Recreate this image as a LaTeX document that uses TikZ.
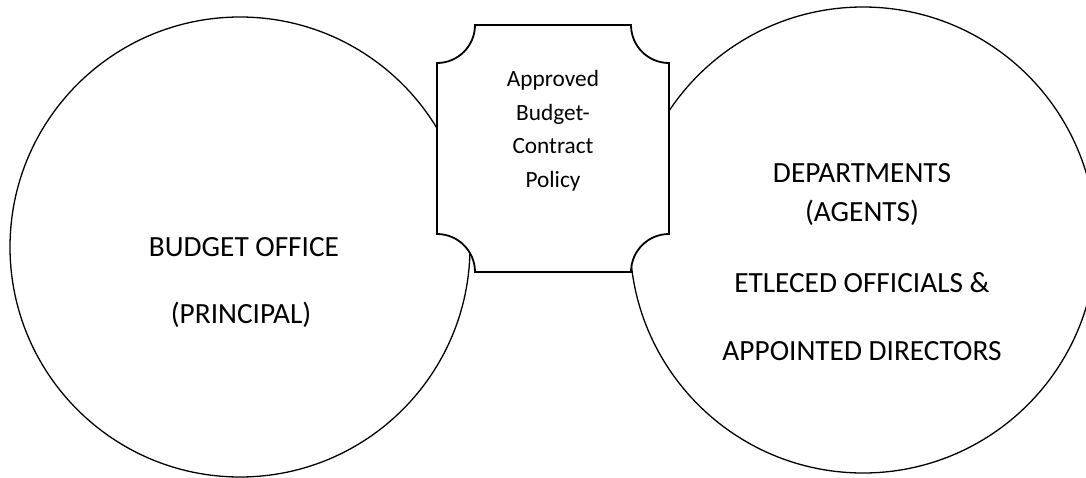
\documentclass[tikz,border=0pt]{standalone}
\usepackage{fontspec}
\setmainfont{Carlito}
\begin{document}
\begin{tikzpicture}[x=1pt,y=-1pt,
  bigcircle/.style={circle,draw=black,line width=1.3pt,inner sep=0pt,outer sep=0pt},
  plaque/.style={draw=black,fill=white,line width=1.8pt},
  bigtext/.style={anchor=base,inner sep=0pt,font=\fontsize{29.3}{35}\selectfont},
  smalltext/.style={anchor=base,inner sep=0pt,font=\fontsize{23.3}{28}\selectfont}]
\useasboundingbox (0,0) rectangle (1086,477);
\node[bigcircle,minimum size=460pt] (bo) at (240,247) {};
\node[bigcircle,minimum size=466pt] (dep) at (863,240) {};
\path[plaque] (475,25) -- (631,25)
  arc[start angle=180,end angle=90,radius=38] -- (669,234)
  arc[start angle=270,end angle=180,radius=38] -- (475,272)
  arc[start angle=0,end angle=-90,radius=38] -- (437,63)
  arc[start angle=90,end angle=0,radius=38] -- cycle;
\node[smalltext] (p1) at (553,86) {Approved};
\node[smalltext] (p2) at (553,120) {Budget-};
\node[smalltext] (p3) at (553,153) {Contract};
\node[smalltext] (p4) at (553,187) {Policy};
\node[bigtext] (b1) at (244,256) {BUDGET OFFICE};
\node[bigtext] (b2) at (241,323) {(PRINCIPAL)};
\node[bigtext] (d1) at (862,182) {DEPARTMENTS};
\node[bigtext] (d2) at (862,221) {(AGENTS)};
\node[bigtext] (d3) at (862,292) {ETLECED OFFICIALS \&};
\node[bigtext] (d4) at (862,360) {APPOINTED DIRECTORS};
\end{tikzpicture}
\end{document}
